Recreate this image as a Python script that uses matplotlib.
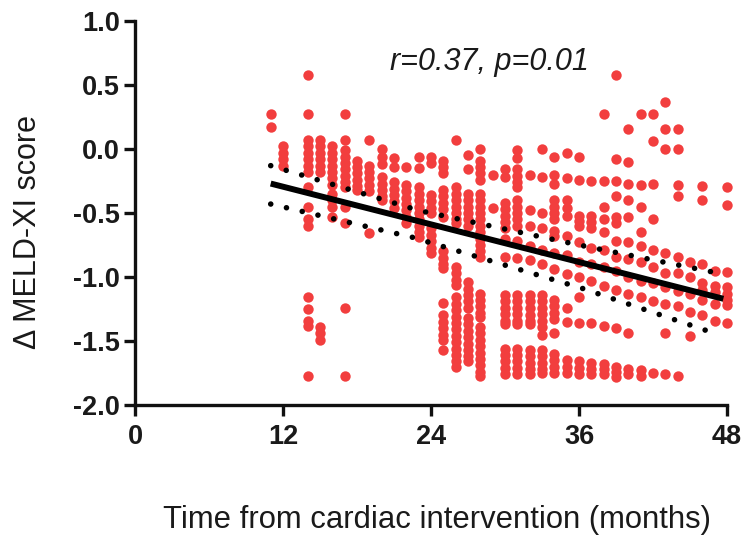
import matplotlib

matplotlib.use("Agg")

import matplotlib.pyplot as plt
import numpy as np

# months since intervention that carry observations
MONTHS = [11, 12, 14, 15, 16, 17, 18, 19, 20, 21, 22, 23, 24, 25, 26, 27, 28, 29,
          30, 31, 32, 33, 34, 35, 36, 37, 38, 39, 40, 41, 42, 43, 44, 45, 46, 47, 48]

# delta MELD-XI values per month
M11 = [0.27, 0.17]
M12 = [0.02, -0.03, -0.08, -0.13]
M14 = [0.58, 0.27, 0.07, 0.02, -0.03, -0.08, -0.13, -0.18, -0.3, -0.45, -0.55, -0.6,
       -1.16, -1.25, -1.34, -1.38, -1.77]
M15 = [0.07, 0.02, -0.03, -0.08, -0.13, -0.18, -1.39, -1.44, -1.49]
M16 = [0.02, -0.03, -0.08, -0.13, -0.18, -0.23, -0.28, -0.35, -0.4, -0.45, -0.53]
M17 = [0.27, 0.07, -0.01, -0.06, -0.11, -0.16, -0.21, -0.26, -0.3, -0.45, -0.58,
       -1.24, -1.77]
M18 = [-0.09, -0.14, -0.19, -0.24, -0.29, -0.32]
M19 = [0.07, -0.13, -0.18, -0.23, -0.28, -0.33, -0.66]
M20 = [0.0, -0.06, -0.12, -0.22, -0.27, -0.32, -0.37, -0.4]
M21 = [-0.07, -0.14, -0.26, -0.31, -0.36, -0.41, -0.46]
M22 = [-0.14, -0.28, -0.33, -0.38, -0.43, -0.48, -0.53, -0.58]
M23 = [-0.06, -0.15, -0.3, -0.35, -0.4, -0.45, -0.5, -0.55, -0.6, -0.65, -0.69]
M24 = [-0.06, -0.11, -0.36, -0.41, -0.46, -0.5, -0.62, -0.67, -0.72, -0.77, -0.81]
M25 = [-0.09, -0.14, -0.19, -0.32, -0.37, -0.42, -0.47, -0.53, -0.8, -0.85, -0.9, -0.93,
       -1.2, -1.3, -1.35, -1.4, -1.45, -1.49, -1.57]
M26 = [0.07, -0.3, -0.35, -0.4, -0.45, -0.5, -0.55, -0.58, -0.92, -0.97, -1.02, -1.06,
       -1.16, -1.21, -1.26, -1.31, -1.36, -1.41, -1.46, -1.51, -1.56, -1.61, -1.66, -1.7]
M27 = [-0.05, -0.16, -0.35, -0.4, -0.45, -0.5, -0.55, -0.6, -1.04, -1.09, -1.14, -1.19,
       -1.24, -1.32, -1.37, -1.42, -1.47, -1.52, -1.57, -1.62, -1.66]
M28 = [0.0, -0.09, -0.14, -0.19, -0.24, -0.35, -0.4, -0.45, -0.5, -0.55, -0.6, -0.65,
       -0.7, -0.75, -0.8, -0.84, -1.13, -1.18, -1.23, -1.28, -1.31, -1.39, -1.44, -1.49,
       -1.54, -1.59, -1.64, -1.69, -1.74, -1.77]
M29 = [-0.2, -0.46]
M30 = [-0.16, -0.22, -0.42, -0.47, -0.52, -0.57, -0.62, -0.7, -0.84, -1.14, -1.19, -1.24,
       -1.29, -1.34, -1.37, -1.56, -1.61, -1.66, -1.71, -1.76]
M31 = [-0.01, -0.07, -0.16, -0.21, -0.26, -0.3, -0.4, -0.45, -0.5, -0.55, -0.6, -0.72,
       -0.85, -1.14, -1.19, -1.24, -1.29, -1.34, -1.37, -1.56, -1.61, -1.66, -1.71, -1.76]
M32 = [-0.2, -0.48, -0.6, -0.76, -0.87, -1.14, -1.19, -1.24, -1.3, -1.34, -1.37, -1.57,
       -1.62, -1.67, -1.72, -1.76]
M33 = [0.0, -0.22, -0.5, -0.62, -0.79, -0.9, -1.14, -1.19, -1.24, -1.29, -1.34, -1.39,
       -1.45, -1.57, -1.62, -1.67, -1.72, -1.75]
M34 = [-0.06, -0.2, -0.27, -0.4, -0.45, -0.5, -0.55, -0.64, -0.68, -0.81, -0.94, -1.18,
       -1.23, -1.28, -1.33, -1.44, -1.6, -1.65, -1.7, -1.75]
M35 = [-0.03, -0.23, -0.4, -0.46, -0.52, -0.68, -0.83, -0.98, -1.24, -1.35, -1.65, -1.7,
       -1.75]
M36 = [-0.06, -0.24, -0.52, -0.56, -0.6, -0.73, -0.88, -1.0, -1.16, -1.36, -1.66, -1.71,
       -1.76]
M37 = [-0.25, -0.52, -0.57, -0.62, -0.77, -0.9, -1.03, -1.36, -1.67, -1.72, -1.76]
M38 = [0.27, -0.25, -0.45, -0.55, -0.65, -0.79, -0.92, -1.07, -1.38, -1.68, -1.72, -1.76]
M39 = [0.58, -0.08, -0.25, -0.37, -0.53, -0.58, -0.72, -0.84, -0.95, -1.1, -1.4, -1.7,
       -1.74, -1.78]
M40 = [0.16, -0.1, -0.27, -0.4, -0.53, -0.73, -0.86, -1.0, -1.13, -1.44, -1.72, -1.76]
M41 = [0.27, -0.28, -0.45, -0.65, -0.76, -0.88, -1.03, -1.16, -1.73, -1.77]
M42 = [0.27, 0.06, -0.27, -0.55, -0.79, -0.92, -1.05, -1.19, -1.75]
M43 = [0.37, 0.16, 0.0, -0.81, -0.97, -1.08, -1.21, -1.44, -1.76]
M44 = [0.16, 0.0, -0.28, -0.37, -0.84, -0.97, -1.11, -1.23, -1.77]
M45 = [-0.88, -1.0, -1.13, -1.27, -1.46]
M46 = [-0.29, -0.4, -0.9, -1.05, -1.1, -1.18, -1.3]
M47 = [-0.95, -1.07, -1.12, -1.21, -1.34]
M48 = [-0.3, -0.44, -0.96, -1.08, -1.13, -1.18, -1.22, -1.36]

COLUMNS = [M11, M12, M14, M15, M16, M17, M18, M19, M20, M21, M22, M23, M24, M25, M26,
           M27, M28, M29, M30, M31, M32, M33, M34, M35, M36, M37, M38, M39, M40, M41,
           M42, M43, M44, M45, M46, M47, M48]

# linear fit and its 95% band
FIT_X = [11, 47.7]
FIT_Y = [-0.27, -1.17]
BAND_UPPER_X = [11, 23, 35.5, 47.3]
BAND_UPPER_Y = [-0.13, -0.48, -0.74, -0.97]
BAND_LOWER_X = [11, 22.5, 36.3, 47.3]
BAND_LOWER_Y = [-0.43, -0.69, -1.09, -1.45]

ANNOTATION = "r=0.37, p=0.01"

x_pts = np.concatenate([[m] * len(col) for m, col in zip(MONTHS, COLUMNS)])
y_pts = np.concatenate(COLUMNS)

plt.rcParams["font.family"] = ["Liberation Sans", "DejaVu Sans"]

fig = plt.figure(figsize=(7.44, 5.40), dpi=100)
ax = fig.add_axes([0.1815, 0.25, 0.7957, 0.7111])

ax.scatter(x_pts, y_pts, s=56, color="#F23E3E", linewidths=0, zorder=2, clip_on=False)
ax.plot(FIT_X, FIT_Y, color="black", linewidth=4.3, solid_capstyle="butt", zorder=4)
for bx, by in ((BAND_UPPER_X, BAND_UPPER_Y), (BAND_LOWER_X, BAND_LOWER_Y)):
    ax.plot(bx, by, color="black", linewidth=4.0, linestyle=(0, (0.01, 2.9)),
            dash_capstyle="round", zorder=3)

ax.text(28.7, 0.68, ANNOTATION, fontsize=22, style="italic", color="#1a1a1a",
        ha="center", va="center")

ax.set_xlim(0, 48)
ax.set_ylim(-2.0, 1.0)
ax.set_xticks([0, 12, 24, 36, 48])
ax.set_yticks(np.arange(-2.0, 1.01, 0.5))
ax.set_yticklabels([f"{v:.1f}" for v in np.arange(-2.0, 1.01, 0.5)])

for side in ("top", "right"):
    ax.spines[side].set_visible(False)
for side in ("left", "bottom"):
    ax.spines[side].set_linewidth(2.4)
    ax.spines[side].set_color("#111111")
ax.tick_params(axis="both", direction="out", length=8, width=2.4, color="#111111",
               labelsize=19.5, labelcolor="#1a1a1a")
ax.tick_params(axis="y", pad=3)
ax.tick_params(axis="x", pad=6)
for lab in ax.get_xticklabels() + ax.get_yticklabels():
    lab.set_fontweight("bold")

fig.text(0.038, 0.57, "\u0394 MELD-XI score", rotation=90, fontsize=22,
         color="#1a1a1a", ha="center", va="center")
fig.text(0.587, 0.037, "Time from cardiac intervention (months)", fontsize=22.3,
         color="#1a1a1a", ha="center", va="center")

fig.savefig("out.png", dpi=100)
